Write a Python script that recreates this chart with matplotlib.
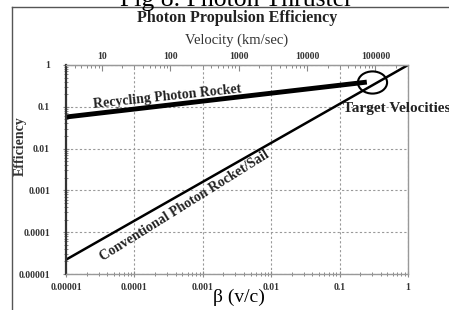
import matplotlib
matplotlib.use('Agg')
import matplotlib.pyplot as plt
import numpy as np
from matplotlib.path import Path
from matplotlib.ticker import FixedLocator, FixedFormatter, LogLocator, NullFormatter

# data
beta_ticks = [1e-5, 1e-4, 1e-3, 1e-2, 1e-1, 1]
beta_labels = ['0.00001', '0.0001', '0.001', '0.01', '0.1', '1']
eff_ticks = [1e-5, 1e-4, 1e-3, 1e-2, 1e-1, 1]
eff_labels = ['0.00001', '0.0001', '0.001', '0.01', '0.1', '1']
vel_ticks = [10, 100, 1000, 10000, 100000]
vel_labels = ['10', '100', '1000', '10000', '100000']
c_kms = 3.0e5

recycling_beta = [1e-5, 0.25]
recycling_eff = [0.057, 0.39]
conventional_beta = [1e-5, 1.0]
conventional_eff = [2.2e-5, 1.0]
target_beta = 0.3
target_eff = 0.4

serif = ['Liberation Serif', 'DejaVu Serif']
plt.rcParams['font.family'] = serif

fig = plt.figure(figsize=(4.49, 3.10), dpi=100)
ax = fig.add_axes([66/449, 1-274/310, 342/449, 209/310])

ax.plot(recycling_beta, recycling_eff, color='black', linewidth=3.5, solid_capstyle='butt')
ax.plot(conventional_beta, conventional_eff, color='black', linewidth=1.8, solid_capstyle='butt')

# target ellipse marker
circ = Path.unit_circle()
ell = Path(circ.vertices * np.array([1.0, 0.76]), circ.codes)
ax.plot([target_beta], [target_eff], marker=ell, markersize=21, markerfacecolor='none',
        markeredgecolor='black', markeredgewidth=1.5, linestyle='none')

ax.set_xscale('log')
ax.set_yscale('log')
ax.set(xlim=(1e-5, 1), ylim=(1e-5, 1))
ax.xaxis.set_major_locator(FixedLocator(beta_ticks))
ax.xaxis.set_major_formatter(FixedFormatter(beta_labels))
ax.yaxis.set_major_locator(FixedLocator(eff_ticks))
ax.yaxis.set_major_formatter(FixedFormatter(eff_labels))
ax.xaxis.set_minor_locator(LogLocator(subs=np.arange(2, 10)))
ax.yaxis.set_minor_locator(LogLocator(subs=np.arange(2, 10)))
ax.xaxis.set_minor_formatter(NullFormatter())
ax.yaxis.set_minor_formatter(NullFormatter())
ax.tick_params(which='major', direction='inout', length=5, width=0.8, color='#888888',
               labelsize=7, labelcolor='#333333')
ax.tick_params(which='minor', direction='inout', length=3, width=0.7, color='#888888')
ax.tick_params(axis='x', pad=4)
ax.tick_params(axis='y', pad=9)
for lab in ax.get_xticklabels() + ax.get_yticklabels():
    lab.set_fontweight('bold')

ax.grid(which='major', color='#999999', linestyle=(0, (2, 2)), linewidth=0.8)
for s in ['top', 'right', 'bottom']:
    ax.spines[s].set_color('#999999')
    ax.spines[s].set_linewidth(1.0)
ax.spines['left'].set_color('#333333')
ax.spines['left'].set_linewidth(1.6)

# top velocity axis
top = ax.secondary_xaxis('top', functions=(lambda b: b * c_kms, lambda v: v / c_kms))
top.xaxis.set_major_locator(FixedLocator(vel_ticks))
top.xaxis.set_major_formatter(FixedFormatter(vel_labels))
top.xaxis.set_minor_locator(LogLocator(subs=np.arange(2, 10)))
top.xaxis.set_minor_formatter(NullFormatter())
top.tick_params(which='major', direction='in', length=4, width=0.8, color='#888888',
                labelsize=7, labelcolor='#333333', pad=3)
top.tick_params(which='minor', direction='in', length=2.5, width=0.7, color='#888888')
for lab in top.xaxis.get_ticklabels():
    lab.set_fontweight('bold')
top.spines['top'].set_color('#999999')

ax.set_ylabel('Efficiency', fontsize=10, fontweight='bold', color='#333333')
ax.yaxis.set_label_coords(-0.115, 0.61)
ax.set_xlabel('β (v/c)', fontsize=14, color='black')
ax.xaxis.set_label_coords(0.506, -0.07)

ax.text(0.5, 1.12, 'Velocity (km/sec)', transform=ax.transAxes, ha='center', va='center',
        fontsize=10.5, color='#333333')
ax.text(0.5, 1.225, 'Photon Propulsion Efficiency', transform=ax.transAxes, ha='center',
        va='center', fontsize=11.5, fontweight='bold', color='#222222')

ax.text(3e-4, 0.17, 'Recycling Photon Rocket', fontsize=10, fontweight='bold',
        rotation=6, ha='center', va='center', color='#222222')
ax.text(5.5e-4, 4.2e-4, 'Conventional Photon Rocket/Sail', fontsize=10, fontweight='bold',
        rotation=32, ha='center', va='center', color='#222222')
ax.text(0.112, 0.093, 'Target Velocities', fontsize=11, fontweight='bold', ha='left',
        va='center', color='#222222', clip_on=False)

# outer frame and figure caption
fig.add_artist(plt.Line2D([12/449, 12/449], [0, 1-7/310], color='#555555', linewidth=1.0))
fig.add_artist(plt.Line2D([12/449, 1], [1-7/310, 1-7/310], color='#555555', linewidth=1.0))
fig.text(236/449, 1-6/310, 'Fig 8. Photon Thruster', fontsize=18.5, ha='center', va='baseline',
         color='black')

fig.savefig('out.png', dpi=100)
